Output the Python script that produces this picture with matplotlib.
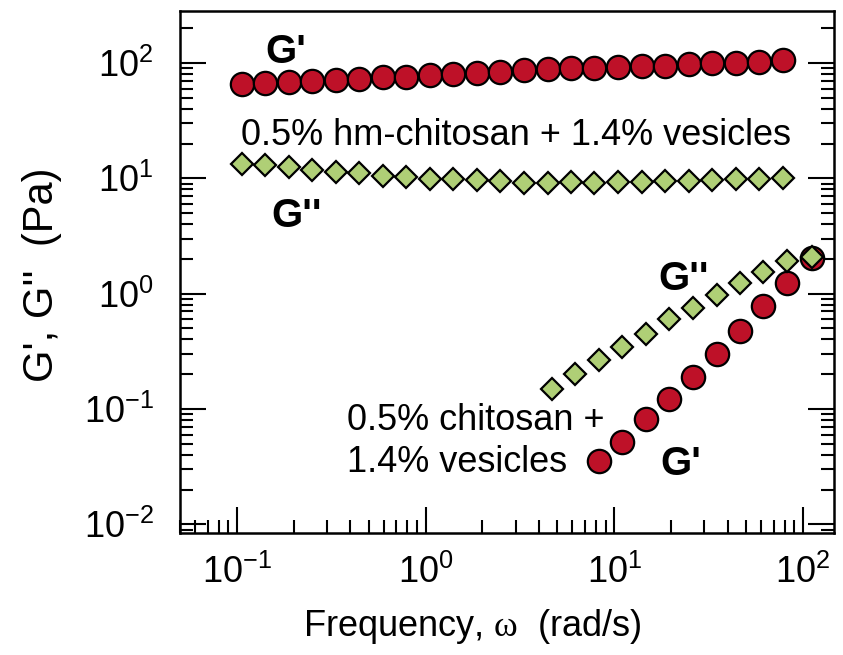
import matplotlib
matplotlib.use('Agg')
import matplotlib.pyplot as plt
from matplotlib import font_manager
from matplotlib.ticker import FuncFormatter, LogLocator, NullFormatter
import numpy as np

# ---------------- data ----------------
# 0.5% hm-chitosan + 1.4% vesicles
omega_hm = [0.106, 0.141, 0.188, 0.251, 0.334, 0.445, 0.593, 0.791, 1.05, 1.40,
            1.87, 2.49, 3.32, 4.43, 5.90, 7.85, 10.5, 14.0, 18.6, 24.8,
            33.0, 44.0, 58.6, 78.2]
Gp_hm = [65.3, 66.7, 68.9, 70.2, 71.2, 73.1, 75.2, 76.0, 78.2, 80.3,
         82.4, 84.1, 87.0, 88.7, 90.0, 91.0, 92.9, 94.2, 94.8, 97.5,
         99.4, 100.6, 102.6, 105.1]
Gpp_hm = [13.4, 13.0, 12.4, 11.8, 11.4, 11.0, 10.5, 10.3, 9.94, 9.80,
          9.67, 9.48, 9.18, 9.18, 9.29, 9.18, 9.29, 9.29, 9.48, 9.48,
          9.61, 9.80, 9.94, 10.1]

# 0.5% chitosan + 1.4% vesicles
omega_ch_Gp = [8.30, 11.0, 14.7, 19.5, 26.0, 34.9, 46.4, 61.6, 82.0, 111]
Gp_ch = [0.0351, 0.0517, 0.0823, 0.123, 0.190, 0.302, 0.471, 0.782, 1.245, 2.04]
omega_ch_Gpp = [4.66, 6.19, 8.30, 11.0, 14.7, 19.5, 26.0, 34.9, 46.4, 61.6, 82.0, 111]
Gpp_ch = [0.150, 0.202, 0.264, 0.347, 0.450, 0.607, 0.756, 0.980, 1.245, 1.55, 1.91, 2.09]

x_ticks = [0.1, 1, 10, 100]
y_ticks = [0.01, 0.1, 1, 10, 100]

# ---------------- fonts ----------------
names = {f.name for f in font_manager.fontManager.ttflist}
if 'Liberation Sans Narrow' in names:
    TICKFAM, TICKSIZE = 'Liberation Sans Narrow', 30
else:
    TICKFAM, TICKSIZE = 'Liberation Sans', 26

plt.rcParams['font.family'] = [TICKFAM, 'DejaVu Sans']
plt.rcParams['mathtext.fontset'] = 'custom'
plt.rcParams['mathtext.rm'] = TICKFAM
plt.rcParams['mathtext.it'] = 'Liberation Serif'

RED = '#BE1128'
GREEN = '#AFCF76'

W, H = 843, 655
fig = plt.figure(figsize=(W / 100, H / 100), dpi=100)
L, R, T, B = 180, 834, 11, 533
ax = fig.add_axes([L / W, 1 - B / H, (R - L) / W, (B - T) / H])

ax.set_xscale('log')
ax.set_yscale('log')
ax.set_xlim(0.05, 146)
ax.set_ylim(0.0084, 282)

ms_c = 16.8
ms_d = 11.5
ax.plot(omega_hm, Gp_hm, 'o', ms=ms_c, mfc=RED, mec='black', mew=1.6, ls='none')
ax.plot(omega_hm, Gpp_hm, 'D', ms=ms_d, mfc=GREEN, mec='black', mew=1.6, ls='none')
ax.plot(omega_ch_Gp, Gp_ch, 'o', ms=ms_c, mfc=RED, mec='black', mew=1.6, ls='none')
ax.plot(omega_ch_Gpp, Gpp_ch, 'D', ms=ms_d, mfc=GREEN, mec='black', mew=1.6, ls='none')

# ticks
fmt = FuncFormatter(lambda v, p: r'$\mathregular{10^{%d}}$' % int(round(np.log10(v))))
ax.xaxis.set_major_locator(matplotlib.ticker.FixedLocator(x_ticks))
ax.yaxis.set_major_locator(matplotlib.ticker.FixedLocator(y_ticks))
ax.xaxis.set_major_formatter(fmt)
ax.yaxis.set_major_formatter(fmt)
ax.xaxis.set_minor_locator(LogLocator(base=10, subs=np.arange(2, 10), numticks=20))
ax.yaxis.set_minor_locator(LogLocator(base=10, subs=np.arange(2, 10), numticks=20))
ax.xaxis.set_minor_formatter(NullFormatter())
ax.yaxis.set_minor_formatter(NullFormatter())

ax.tick_params(which='both', direction='in', top=False, right=True, bottom=True, left=True,
               width=1.5, color='black')
ax.tick_params(which='major', length=19)
ax.tick_params(which='minor', length=9.5)
ax.tick_params(axis='x', which='major', pad=16, labelsize=TICKSIZE)
ax.tick_params(axis='y', which='major', pad=19, labelsize=TICKSIZE)

for s in ax.spines.values():
    s.set_linewidth(1.8)

ax.set_xlabel(r'Frequency, $\omega$  (rad/s)', fontsize=TICKSIZE, family=[TICKFAM, 'DejaVu Sans'])
ax.xaxis.set_label_coords((472 - L) / (R - L), (B - 607) / (B - T))
ax.set_ylabel("G', G''  (Pa)", fontsize=30, family=['Liberation Sans', 'DejaVu Sans'])
ax.yaxis.label.set_va('center')
ax.yaxis.set_label_coords((42 - L) / (R - L), (B - 275) / (B - T))

def axp(px, py):
    return ((px - L) / (R - L), (B - py) / (B - T))

tkw = dict(transform=ax.transAxes, family=['Liberation Sans', 'DejaVu Sans'])
ax.text(*axp(286, 63), "G'", fontsize=29, fontweight='bold', ha='center', va='baseline', **tkw)
ax.text(*axp(297, 227), "G''", fontsize=29, fontweight='bold', ha='center', va='baseline', **tkw)
ax.text(*axp(516, 145), "0.5% hm-chitosan + 1.4% vesicles", fontsize=26, ha='center', va='baseline', **tkw)
ax.text(*axp(658, 290), "G''", fontsize=29, fontweight='bold', ha='left', va='baseline', **tkw)
ax.text(*axp(660, 475), "G'", fontsize=29, fontweight='bold', ha='left', va='baseline', **tkw)
ax.text(*axp(347, 430), "0.5% chitosan +", fontsize=26, ha='left', va='baseline', **tkw)
ax.text(*axp(347, 472), "1.4% vesicles", fontsize=26, ha='left', va='baseline', **tkw)

fig.savefig('out.png', dpi=100)
